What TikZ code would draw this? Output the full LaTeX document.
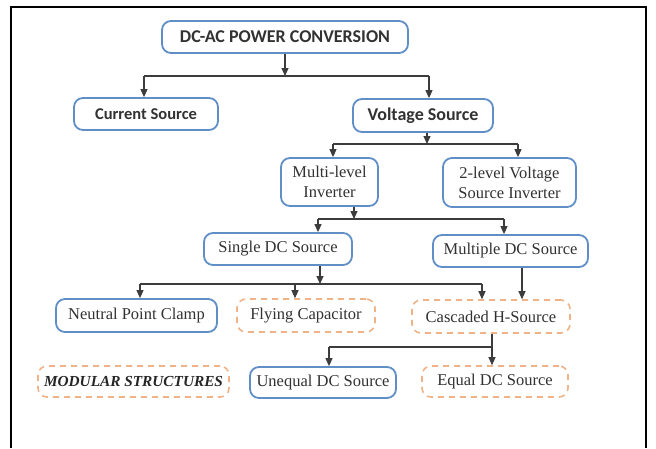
\documentclass[tikz,border=0pt]{standalone}
\usepackage{fontspec}
\setmainfont{Liberation Serif}
\newfontfamily\calfont{Carlito}
\usetikzlibrary{arrows.meta}
\definecolor{bluebd}{RGB}{96,142,198}
\definecolor{orangebd}{RGB}{240,178,135}
\definecolor{txt}{RGB}{50,50,50}
\definecolor{conn}{RGB}{60,60,60}
\tikzset{
  box/.style={draw=bluebd, line width=1.8pt, rounded corners=9pt, fill=white, inner sep=0pt, text=txt, align=center},
  dbox/.style={draw=orangebd, line width=1.6pt, dash pattern=on 6pt off 5pt, rounded corners=9pt, fill=white, inner sep=0pt, text=txt, align=center},
  sansb/.style={font=\calfont\bfseries\fontsize{16.5}{19}\selectfont},
  sansbig/.style={font=\calfont\bfseries\fontsize{18}{21}\selectfont},
  serif/.style={font=\fontsize{16.5}{20}\selectfont},
  conline/.style={draw=conn, line width=1.1pt},
  arr/.style={conline, -{Triangle[width=7pt,length=8pt]}},
}
\begin{document}
\begin{tikzpicture}[x=1pt,y=-1pt]
\useasboundingbox (0,0) rectangle (656,448);
\fill[white] (0,0) rectangle (656,448);
% frame (open at the bottom)
\draw[line width=2.4pt] (11,448) -- (11,7) -- (646,7) -- (646,448);

% nodes
\node[box,sansbig,minimum width=246pt,minimum height=32pt] (top) at (285,37) {DC-AC POWER CONVERSION};
\node[box,sansb,minimum width=144pt,minimum height=32pt] (cur) at (146,114) {Current Source};
\node[box,sansbig,minimum width=140pt,minimum height=33pt] (volt) at (423,115.5) {Voltage Source};
\node[box,serif,minimum width=97pt,minimum height=48pt] (multi) at (329.5,182) {Multi-level\\Inverter};
\node[box,serif,minimum width=133pt,minimum height=49pt] (two) at (509.5,182.5) {2-level Voltage\\Source Inverter};
\node[box,serif,minimum width=148pt,minimum height=32pt] (single) at (278,249) {Single DC Source};
\node[box,serif,minimum width=155pt,minimum height=32pt] (multiple) at (510.5,251) {Multiple DC Source};
\node[box,serif,minimum width=161pt,minimum height=33pt] (npc) at (136.5,315.5) {Neutral Point Clamp};
\node[dbox,serif,minimum width=138pt,minimum height=33pt] (fly) at (306,315.5) {Flying Capacitor};
\node[dbox,serif,minimum width=158pt,minimum height=33pt] (casc) at (491,316.5) {Cascaded H-Source};
\node[dbox,font=\bfseries\itshape\fontsize{15.3}{18}\selectfont,text=black!85,minimum width=191pt,minimum height=31pt] (mod) at (133.5,381.5) {MODULAR STRUCTURES};
\node[box,serif,minimum width=146pt,minimum height=31pt] (uneq) at (323,382.5) {Unequal DC Source};
\node[dbox,serif,minimum width=146pt,minimum height=31pt] (equal) at (495,381.5) {Equal DC Source};

% bus coordinates
\coordinate (b1) at (285,76);
\coordinate (b1l) at (144,76);
\coordinate (b1r) at (429,76);
\coordinate (b2) at (427,144);
\coordinate (b2l) at (333,144);
\coordinate (b2r) at (518,144);
\coordinate (b3) at (354,219);
\coordinate (b3l) at (318,219);
\coordinate (b3r) at (504,219);
\coordinate (b4) at (320,284);
\coordinate (b4l) at (140,284);
\coordinate (b4m) at (295,284);
\coordinate (b4r) at (482,284);
\coordinate (mc) at (522,290);
\coordinate (b5) at (492,347);
\coordinate (b5l) at (329,347);

% connectors
\draw[arr] (top.south -| b1) -- (b1);
\draw[conline] (b1l) -- (b1r);
\draw[arr] (b1l) -- (b1l |- cur.north);
\draw[arr] (b1r) -- (b1r |- volt.north);

\draw[arr] (volt.south -| b2) -- (b2);
\draw[conline] (b2l) -- (b2r);
\draw[arr] (b2l) -- (b2l |- multi.north);
\draw[arr] (b2r) -- (b2r |- two.north);

\draw[arr] (multi.south -| b3) -- (b3);
\draw[conline] (b3l) -- (b3r);
\draw[arr] (b3l) -- (b3l |- single.north);
\draw[arr] (b3r) -- (b3r |- multiple.north);

\draw[arr] (single.south -| b4) -- (b4);
\draw[conline] (b4l) -- (b4r);
\draw[arr] (b4l) -- (b4l |- npc.north);
\draw[arr] (b4m) -- (b4m |- fly.north);
\draw[arr] (b4r) -- (b4r |- casc.north);

\draw[arr] (multiple.south -| mc) -- (casc.north -| mc);

\draw[conline] (casc.south -| b5) -- (b5);
\draw[arr] (b5) -- (equal.north -| b5);
\draw[conline] (b5) -- (b5l);
\draw[arr] (b5l) -- (b5l |- uneq.north);
\end{tikzpicture}
\end{document}
